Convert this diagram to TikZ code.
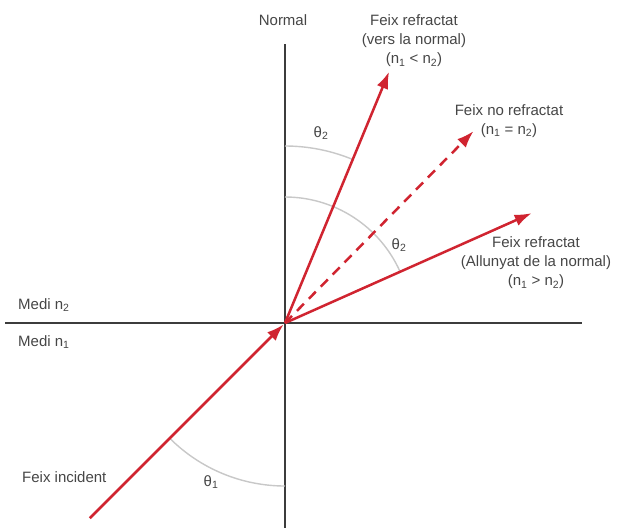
\documentclass[tikz,border=0pt]{standalone}
\usepackage{fontspec}
\setmainfont{Liberation Sans}
\usetikzlibrary{arrows.meta}
\definecolor{raycol}{RGB}{208,36,48}
\definecolor{axiscol}{RGB}{60,60,60}
\definecolor{arccol}{RGB}{200,200,200}
\definecolor{txtcol}{RGB}{70,70,70}
\tikzset{
  lbl/.style={font=\fontsize{15}{19}\selectfont, text=txtcol, inner sep=0pt, align=center},
  axisline/.style={draw=axiscol, line width=2.8pt},
  raybeam/.style={draw=raycol, line width=2.5pt, -{Latex[length=17pt,width=12pt]}},
  anglearc/.style={draw=arccol, line width=1.4pt},
}
\begin{document}
\begin{tikzpicture}[x=1pt,y=1pt]
\useasboundingbox[fill=white] (0,0) rectangle (619,-528);
\coordinate (O) at (285,-323);
\coordinate (top) at (285,-44);
\coordinate (bot) at (285,-528);
\coordinate (L) at (5,-323);
\coordinate (R) at (582,-323);
\draw[axisline] (top) -- (bot);
\draw[axisline] (L) -- (R);
% angle arcs
\draw[anglearc] (O) ++(225:163) arc[start angle=225,end angle=270,radius=163];
\draw[anglearc] (O) ++(67.5:177) arc[start angle=67.5,end angle=90,radius=177];
\draw[anglearc] (O) ++(24:126) arc[start angle=24,end angle=90,radius=126];
% rays
\path (O) ++(225:276) coordinate (inc);
\path (O) ++(67.5:272) coordinate (tn);
\path (O) ++(45.5:269) coordinate (nr);
\path (O) ++(24:270) coordinate (aw);
\draw[raybeam, shorten >=2pt] (inc) -- (O);
\draw[raybeam] (O) -- (tn);
\draw[raybeam, dash pattern=on 10pt off 7pt] (O) -- (nr);
\draw[raybeam] (O) -- (aw);
% labels
\node[lbl] (normal) at (283,-20) {Normal};
\node[lbl] (fr1) at (414,-41) {Feix refractat\\(vers la normal)\\(n\textsubscript{1} < n\textsubscript{2})};
\node[lbl] (fnr) at (509,-121) {Feix no refractat\\(n\textsubscript{1} = n\textsubscript{2})};
\node[lbl] (fr2) at (536,-263) {Feix refractat\\(Allunyat de la normal)\\(n\textsubscript{1} > n\textsubscript{2})};
\node[lbl, anchor=west] (m2) at (18,-305) {Medi n\textsubscript{2}};
\node[lbl, anchor=west] (m1) at (18,-342) {Medi n\textsubscript{1}};
\node[lbl, anchor=west] (fi) at (22,-477) {Feix incident};
\node[lbl] (t1) at (211,-482) {θ\textsubscript{1}};
\node[lbl] (t2a) at (321,-133) {θ\textsubscript{2}};
\node[lbl] (t2b) at (399,-245) {θ\textsubscript{2}};
\end{tikzpicture}
\end{document}
